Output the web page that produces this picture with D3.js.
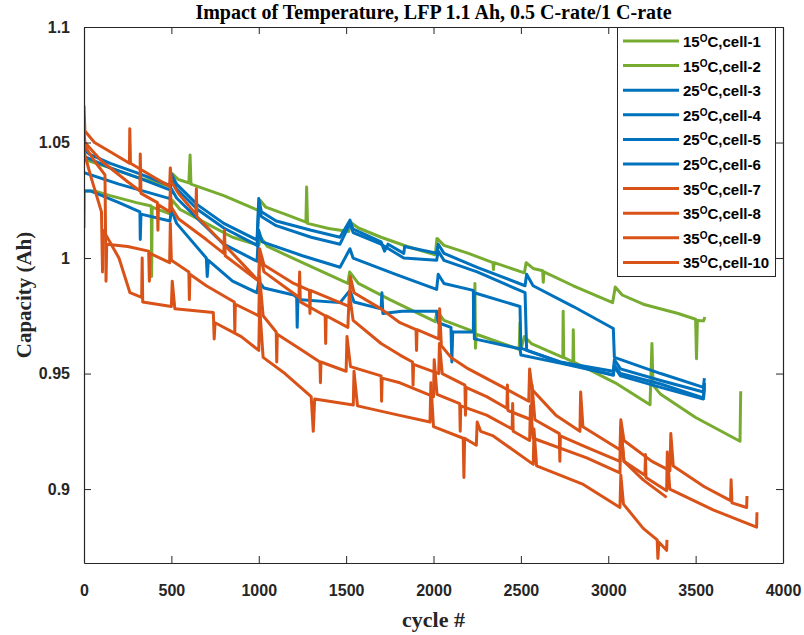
<!DOCTYPE html>
<html>
<head>
<meta charset="utf-8">
<script src="https://cdn.jsdelivr.net/npm/d3@7"></script>
<style>
  body { margin: 0; background: #fff; }
  svg { display: block; }
</style>
</head>
<body>
<svg id="chart" width="804" height="635"></svg>
<script>
// ---- data: [cycle, capacity (Ah)] ----
var cell1 = [[0,1.044],[30,1.042],[150,1.039],[300,1.035],[495,1.031],[505,1.0365],[540,1.034],[600,1.0325],[607,1.0446],[612,1.032],[800,1.027],[1000,1.0205],[1008,1.025],[1040,1.022],[1150,1.019],[1270,1.0155],[1274,1.0307],[1279,1.015],[1400,1.0128],[1515,1.0115],[1525,1.0155],[1570,1.013],[1700,1.009],[1850,1.005],[2010,1.0014],[2020,1.0085],[2060,1.0055],[2200,1.002],[2340,0.998],[2343,0.995],[2347,0.998],[2520,0.9936],[2530,0.998],[2570,0.9955],[2625,0.9945],[2628,0.9895],[2632,0.994],[2800,0.988],[3025,0.9807],[3040,0.9875],[3080,0.984],[3200,0.980],[3400,0.976],[3500,0.9735],[3505,0.9564],[3510,0.973],[3545,0.9728],[3553,0.9745]];
var cell2 = [[0,1.013],[2,1.029],[60,1.029],[150,1.027],[300,1.024],[385,1.0225],[387,0.992],[390,1.022],[495,1.019],[505,1.025],[550,1.021],[700,1.015],[850,1.009],[1000,1.0055],[1010,1.009],[1050,1.005],[1250,0.998],[1510,0.989],[1520,0.994],[1570,0.989],[1750,0.982],[2010,0.9725],[2020,0.977],[2060,0.973],[2235,0.968],[2237,0.989],[2240,0.961],[2245,0.967],[2490,0.9605],[2495,0.972],[2500,0.9605],[2520,0.966],[2560,0.963],[2740,0.957],[2742,0.977],[2745,0.957],[2798,0.955],[2800,0.969],[2803,0.955],[3040,0.946],[3239,0.9365],[3250,0.963],[3256,0.945],[3300,0.941],[3500,0.931],[3754,0.9207],[3758,0.9423]];
var cell3 = [[0,1.047],[30,1.045],[150,1.041],[300,1.037],[492,1.0314],[500,1.0364],[530,1.032],[650,1.023],[800,1.015],[990,1.0078],[1000,1.0258],[1015,1.02],[1100,1.016],[1300,1.012],[1465,1.009],[1522,1.0164],[1540,1.0125],[1700,1.007],[1720,1.003],[1740,1.006],[1830,1.002],[1835,1.005],[2018,1.0021],[2027,1.006],[2060,1.002],[2250,0.996],[2524,0.988],[2533,0.993],[2570,0.988],[2800,0.979],[3029,0.9695],[3035,0.957],[3300,0.950],[3545,0.944],[3550,0.948]];
var cell4 = [[0,1.044],[30,1.043],[150,1.039],[300,1.035],[492,1.0295],[500,1.034],[530,1.030],[650,1.021],[800,1.013],[990,1.0055],[1000,1.022],[1015,1.018],[1100,1.014],[1300,1.009],[1465,1.006],[1522,1.015],[1540,1.011],[1700,1.006],[1830,1.000],[2018,0.999],[2027,1.003],[2060,0.999],[2250,0.994],[2524,0.985],[2533,0.96],[2724,0.955],[3029,0.951],[3035,0.956],[3070,0.952],[3300,0.947],[3545,0.942],[3550,0.946]];
var cell5 = [[0,1.037],[200,1.032],[492,1.0257],[500,1.030],[530,1.026],[650,1.017],[800,1.006],[990,0.9986],[1000,1.012],[1020,1.007],[1250,1.001],[1465,0.996],[1522,1.004],[1540,1.0],[1780,0.993],[2018,0.9864],[2027,0.993],[2060,0.989],[2228,0.986],[2230,0.970],[2233,0.985],[2495,0.979],[2500,0.961],[2724,0.955],[3029,0.9493],[3035,0.953],[3070,0.949],[3300,0.944],[3545,0.939],[3550,0.944]];
var cell6 = [[0,1.029],[40,1.029],[200,1.024],[320,1.020],[322,1.008],[326,1.019],[492,1.016],[500,1.021],[530,1.015],[700,1.000],[705,0.992],[712,0.999],[850,0.99],[990,0.985],[1000,0.99],[1030,0.987],[1200,0.984],[1217,0.983],[1220,0.970],[1224,0.982],[1465,0.9807],[1522,0.986],[1545,0.981],[1700,0.978],[1705,0.985],[1710,0.976],[1820,0.977],[2018,0.977],[2027,0.972],[2100,0.970],[2105,0.955],[2110,0.968],[2228,0.968],[2230,0.985],[2234,0.965],[2495,0.9607],[2500,0.958],[2724,0.9545],[3029,0.9495],[3035,0.9535],[3070,0.950],[3300,0.9455],[3545,0.9395],[3550,0.946]];
var cell7 = [[0,1.066],[5,1.055],[60,1.050],[150,1.046],[260,1.041],[262,1.056],[266,1.041],[400,1.035],[490,1.031],[494,1.039],[500,1.033],[540,1.028],[640,1.019],[643,1.03],[646,1.018],[800,1.006],[900,0.998],[1000,0.990],[1005,1.004],[1030,0.997],[1200,0.989],[1290,0.986],[1293,0.976],[1296,0.986],[1520,0.979],[1524,0.992],[1545,0.985],[1700,0.978],[1808,0.972],[1900,0.969],[1903,0.960],[1906,0.969],[2030,0.965],[2035,0.978],[2045,0.962],[2100,0.957],[2200,0.952],[2400,0.944],[2545,0.938],[2550,0.952],[2565,0.943],[2700,0.932],[2838,0.925],[2842,0.942],[2855,0.927],[3067,0.917],[3072,0.930],[3090,0.921],[3250,0.912],[3353,0.908],[3358,0.924],[3372,0.910],[3550,0.901],[3700,0.895],[3703,0.904],[3708,0.894],[3792,0.892],[3794,0.897]];
var cell8 = [[0,1.056],[5,1.050],[100,1.042],[250,1.033],[320,1.029],[322,1.045],[326,1.028],[420,1.024],[423,1.012],[426,1.023],[490,1.020],[494,1.030],[500,1.022],[540,1.017],[700,1.008],[800,1.002],[804,1.012],[808,1.001],[1000,0.990],[1006,1.002],[1030,0.994],[1230,0.983],[1234,0.994],[1238,0.981],[1380,0.975],[1383,0.963],[1386,0.975],[1510,0.970],[1518,0.985],[1540,0.973],[1700,0.963],[1808,0.958],[1880,0.955],[1883,0.945],[1886,0.954],[2030,0.950],[2034,0.963],[2050,0.950],[2180,0.945],[2183,0.932],[2186,0.944],[2304,0.940],[2420,0.935],[2423,0.945],[2426,0.934],[2560,0.930],[2564,0.945],[2580,0.930],[2720,0.924],[2723,0.912],[2726,0.923],[2877,0.918],[3067,0.912],[3072,0.927],[3090,0.912],[3210,0.906],[3213,0.915],[3216,0.905],[3334,0.8993],[3338,0.916],[3352,0.900],[3600,0.891],[3849,0.8835],[3851,0.890]];
var cell9 = [[0,1.049],[60,1.042],[120,1.036],[126,0.990],[130,1.006],[250,1.005],[370,1.003],[374,0.99],[378,1.002],[490,0.998],[494,1.015],[500,0.999],[600,0.994],[603,0.982],[606,0.993],[700,0.988],[860,0.981],[863,0.968],[866,0.980],[1000,0.975],[1005,0.992],[1025,0.975],[1100,0.968],[1103,0.955],[1106,0.967],[1250,0.960],[1350,0.955],[1353,0.946],[1356,0.955],[1500,0.951],[1505,0.966],[1525,0.953],[1700,0.949],[1703,0.938],[1706,0.948],[1808,0.946],[2000,0.940],[2004,0.956],[2020,0.941],[2150,0.937],[2153,0.925],[2156,0.936],[2304,0.932],[2450,0.926],[2453,0.937],[2456,0.925],[2550,0.921],[2555,0.936],[2570,0.922],[2877,0.9135],[3067,0.907],[3072,0.926],[3090,0.912],[3200,0.904],[3334,0.8964]];
var cell10 = [[0,1.046],[40,1.035],[100,1.020],[106,0.994],[110,1.012],[200,1.000],[263,0.985],[330,0.983],[333,1.0],[336,0.981],[500,0.979],[505,0.99],[520,0.978],[740,0.9764],[745,0.965],[750,0.972],[900,0.966],[1000,0.960],[1005,0.979],[1025,0.957],[1150,0.950],[1300,0.940],[1312,0.925],[1320,0.939],[1541,0.9364],[1545,0.951],[1565,0.936],[1800,0.932],[1980,0.929],[1985,0.946],[2000,0.927],[2170,0.922],[2174,0.905],[2178,0.922],[2245,0.919],[2250,0.929],[2270,0.925],[2342,0.923],[2571,0.9107],[2575,0.926],[2590,0.910],[2857,0.902],[3067,0.892],[3072,0.906],[3087,0.8935],[3200,0.883],[3280,0.878],[3284,0.870],[3290,0.877],[3334,0.8735],[3336,0.878]];

var seriesData = [cell1, cell2, cell3, cell4, cell5, cell6, cell7, cell8, cell9, cell10];
var tempLabels = ["15", "15", "25", "25", "25", "25", "35", "35", "35", "35"];
var cellLabels = ["cell-1", "cell-2", "cell-3", "cell-4", "cell-5", "cell-6", "cell-7", "cell-8", "cell-9", "cell-10"];
var tempColors = {"15": "#77AC30", "25": "#0072BD", "35": "#D95319"};
var xTicks = [0, 500, 1000, 1500, 2000, 2500, 3000, 3500, 4000];
var yTicks = [0.9, 0.95, 1, 1.05, 1.1];

// ---- layout ----
var plotL = 84, plotR = 783, plotT = 27, plotB = 563;
var svg = d3.select("#chart");

var x = d3.scaleLinear().domain([0, 4000]).range([plotL, plotR]);
var y = d3.scaleLinear().domain([0.868, 1.1]).range([plotB, plotT]);

svg.append("rect").attr("x", 0).attr("y", 0).attr("width", 804).attr("height", 635).attr("fill", "#fff");

svg.append("clipPath").attr("id", "plotclip")
  .append("rect").attr("x", plotL).attr("y", plotT).attr("width", plotR - plotL).attr("height", plotB - plotT);

// lines
var line = d3.line()
  .x(function(d) { return x(d[0]); })
  .y(function(d) { return y(d[1]); });

svg.append("g").attr("clip-path", "url(#plotclip)")
  .selectAll("path")
  .data(seriesData)
  .enter().append("path")
  .attr("d", line)
  .attr("fill", "none")
  .attr("stroke", function(d, i) { return tempColors[tempLabels[i]]; })
  .attr("stroke-width", 3)
  .attr("stroke-linejoin", "round");

// axes (MATLAB-like box with inward ticks)
var axisColor = "#262626";
var tickFont = "bold 16px 'Liberation Sans', Arial, sans-serif";

var xAxis = svg.append("g")
  .attr("transform", "translate(0," + plotB + ")")
  .call(d3.axisBottom(x).tickValues(xTicks).tickFormat(d3.format("d")).tickSize(-7).tickSizeOuter(0).tickPadding(22));
var yAxis = svg.append("g")
  .attr("transform", "translate(" + plotL + ",0)")
  .call(d3.axisLeft(y).tickValues(yTicks).tickFormat(function(d) { return String(d); }).tickSize(-7).tickSizeOuter(0).tickPadding(14));
var topAxis = svg.append("g")
  .attr("transform", "translate(0," + plotT + ")")
  .call(d3.axisTop(x).tickValues(xTicks).tickFormat("").tickSize(-7).tickSizeOuter(0));
var rightAxis = svg.append("g")
  .attr("transform", "translate(" + plotR + ",0)")
  .call(d3.axisRight(y).tickValues(yTicks).tickFormat("").tickSize(-7).tickSizeOuter(0));

[xAxis, yAxis, topAxis, rightAxis].forEach(function(g) {
  g.selectAll("path.domain").attr("stroke", axisColor).attr("stroke-width", 1.2);
  g.selectAll(".tick line").attr("stroke", axisColor);
  g.selectAll("text").attr("fill", axisColor).style("font", tickFont);
});

// title and labels
svg.append("text")
  .attr("x", (plotL + plotR) / 2).attr("y", 19)
  .attr("text-anchor", "middle")
  .style("font", "bold 20px 'Liberation Serif', 'Times New Roman', serif")
  .attr("fill", "#000")
  .text("Impact of Temperature, LFP 1.1 Ah, 0.5 C-rate/1 C-rate");

svg.append("text")
  .attr("x", (plotL + plotR) / 2).attr("y", 627)
  .attr("text-anchor", "middle")
  .style("font", "bold 22px 'Liberation Serif', 'Times New Roman', serif")
  .attr("fill", "#262626")
  .text("cycle #");

svg.append("text")
  .attr("transform", "translate(31," + ((plotT + plotB) / 2) + ") rotate(-90)")
  .attr("text-anchor", "middle")
  .style("font", "bold 21px 'Liberation Serif', 'Times New Roman', serif")
  .attr("fill", "#262626")
  .text("Capacity (Ah)");

// legend
var lg = svg.append("g");
lg.append("rect")
  .attr("x", 617.5).attr("y", 27.5).attr("width", 158).attr("height", 249)
  .attr("fill", "#fff").attr("stroke", axisColor).attr("stroke-width", 1);

var items = lg.selectAll("g.item")
  .data(seriesData)
  .enter().append("g")
  .attr("class", "item")
  .attr("transform", function(d, i) { return "translate(0," + (41 + i * 24.6) + ")"; });

items.append("line")
  .attr("x1", 623).attr("x2", 679).attr("y1", 0).attr("y2", 0)
  .attr("stroke", function(d, i) { return tempColors[tempLabels[i]]; })
  .attr("stroke-width", 3);

var lt = items.append("text")
  .attr("x", 683).attr("y", 6)
  .attr("fill", "#000")
  .style("font", "bold 15px 'Liberation Sans', Arial, sans-serif");
lt.append("tspan").text(function(d, i) { return tempLabels[i]; });
lt.append("tspan").attr("dy", -5).style("font-size", "10px").text("O");
lt.append("tspan").attr("dy", 5).text(function(d, i) { return "C," + cellLabels[i]; });
</script>
</body>
</html>
